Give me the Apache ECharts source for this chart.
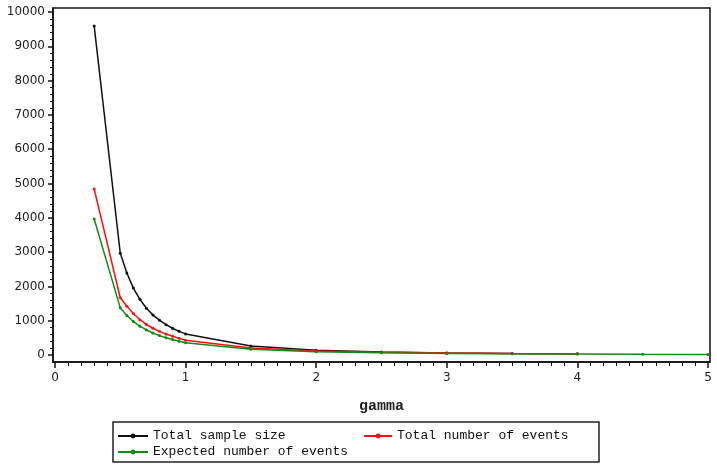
<!DOCTYPE html>
<html>
<head>
<meta charset="utf-8">
<script src="https://cdn.jsdelivr.net/npm/echarts@6/dist/echarts.min.js"></script>
<style>
html,body{margin:0;padding:0;background:#fff;}
#chart{width:717px;height:469px;}
</style>
</head>
<body>
<div id="chart"></div>
<script>
// ---- data ----
const gammaMain = [0.3, 0.5, 0.55, 0.6, 0.65, 0.7, 0.75, 0.8, 0.85, 0.9, 0.95, 1.0, 1.5, 2, 2.5, 3, 3.5, 4];
const gammaExpected = [0.3, 0.5, 0.55, 0.6, 0.65, 0.7, 0.75, 0.8, 0.85, 0.9, 0.95, 1.0, 1.5, 2, 2.5, 3, 3.5, 4, 4.5, 5];
const totalSampleSize = [9590, 2965, 2390, 1950, 1625, 1365, 1165, 1015, 885, 780, 690, 615, 262, 140, 88, 60, 45, 36];
const totalEvents = [4840, 1670, 1420, 1210, 1030, 890, 780, 690, 610, 545, 485, 430, 205, 118, 78, 55, 42, 33];
const expectedEvents = [3965, 1375, 1150, 975, 840, 730, 640, 565, 505, 450, 400, 355, 170, 98, 64, 45, 34, 27, 22, 18];
const seriesNames = ['Total sample size', 'Total number of events', 'Expected number of events'];
const xTickValues = [0, 1, 2, 3, 4, 5];
const yTickValues = [0, 1000, 2000, 3000, 4000, 5000, 6000, 7000, 8000, 9000, 10000];
const xAxisTitle = 'gamma';

// ---- build ----
const zip = (xs, ys) => ys.map((y, i) => [xs[i], y]);
const xMinor = [];
for (let i = 0; i <= 50; i++) if (i % 10) xMinor.push(+(i / 10).toFixed(1));
const yMinor = [];
for (let v = 0; v <= 10000; v += 200) if (v % 1000) yMinor.push(v);

const X_MIN = -0.0153, X_MAX = 5.0153, Y_MIN = -204, Y_MAX = 10117;
const labelFont = { fontFamily: 'DejaVu Sans', fontSize: 12, color: '#222' };
const plain = v => String(Math.round(v));

const chart = echarts.init(document.getElementById('chart'), null, { renderer: 'canvas' });
chart.setOption({
  animation: false,
  backgroundColor: '#fff',
  grid: { left: 53, right: 7, top: 8, bottom: 107, show: true, borderColor: '#111', borderWidth: 1.5, backgroundColor: '#fff' },
  xAxis: [
    {
      type: 'value', min: X_MIN, max: X_MAX, position: 'bottom',
      name: xAxisTitle, nameLocation: 'middle', nameGap: 37,
      nameTextStyle: { fontFamily: 'Liberation Mono', fontSize: 15, fontWeight: 'bold', color: '#222' },
      axisLine: { show: true, onZero: false, lineStyle: { color: '#111', width: 1.5 } },
      axisTick: { show: true, inside: false, length: 6, customValues: xTickValues, lineStyle: { color: '#111', width: 1.5 } },
      axisLabel: Object.assign({ customValues: xTickValues, margin: 10, formatter: plain }, labelFont),
      splitLine: { show: false }
    },
    {
      type: 'value', min: X_MIN, max: X_MAX, position: 'bottom',
      axisLine: { show: false, onZero: false },
      axisTick: { show: true, inside: false, length: 4, customValues: xMinor, lineStyle: { color: '#111', width: 1 } },
      axisLabel: { show: false },
      splitLine: { show: false }
    }
  ],
  yAxis: [
    {
      type: 'value', min: Y_MIN, max: Y_MAX, position: 'left',
      axisLine: { show: true, onZero: false, lineStyle: { color: '#111', width: 1.5 } },
      axisTick: { show: true, inside: false, length: 5, customValues: yTickValues, lineStyle: { color: '#111', width: 1.5 } },
      axisLabel: Object.assign({ customValues: yTickValues, margin: 8, formatter: plain }, labelFont),
      splitLine: { show: false }
    },
    {
      type: 'value', min: Y_MIN, max: Y_MAX, position: 'left',
      axisLine: { show: false, onZero: false },
      axisTick: { show: true, inside: false, length: 3, customValues: yMinor, lineStyle: { color: '#222', width: 1 } },
      axisLabel: { show: false },
      splitLine: { show: false }
    }
  ],
  legend: [
    {
      data: [seriesNames[0], seriesNames[2]], orient: 'vertical', left: 117, top: 429, padding: 0,
      itemWidth: 30, itemHeight: 6, itemGap: 2,
      textStyle: { fontFamily: 'Liberation Mono', fontSize: 13, color: '#111', lineHeight: 14 }
    },
    {
      data: [seriesNames[1]], orient: 'vertical', left: 363, top: 429, padding: 0,
      itemWidth: 28, itemHeight: 6, itemGap: 2,
      textStyle: { fontFamily: 'Liberation Mono', fontSize: 13, color: '#111', lineHeight: 14 }
    }
  ],
  graphic: [
    { type: 'rect', shape: { x: 113, y: 422, width: 486, height: 40 }, style: { fill: 'none', stroke: '#222', lineWidth: 1.5 }, silent: true }
  ],
  series: [
    {
      name: seriesNames[0], type: 'line', xAxisIndex: 0, yAxisIndex: 0,
      data: zip(gammaMain, totalSampleSize),
      symbol: 'circle', symbolSize: 3, showSymbol: true,
      lineStyle: { color: '#111', width: 1.5 }, itemStyle: { color: '#111' }
    },
    {
      name: seriesNames[1], type: 'line', xAxisIndex: 0, yAxisIndex: 0,
      data: zip(gammaMain, totalEvents),
      symbol: 'circle', symbolSize: 3, showSymbol: true,
      lineStyle: { color: '#ff1010', width: 1.5 }, itemStyle: { color: '#ff1010' }
    },
    {
      name: seriesNames[2], type: 'line', xAxisIndex: 0, yAxisIndex: 0,
      data: zip(gammaExpected, expectedEvents),
      symbol: 'circle', symbolSize: 3, showSymbol: true,
      lineStyle: { color: '#138a13', width: 1.5 }, itemStyle: { color: '#138a13' }
    }
  ]
});
</script>
</body>
</html>
